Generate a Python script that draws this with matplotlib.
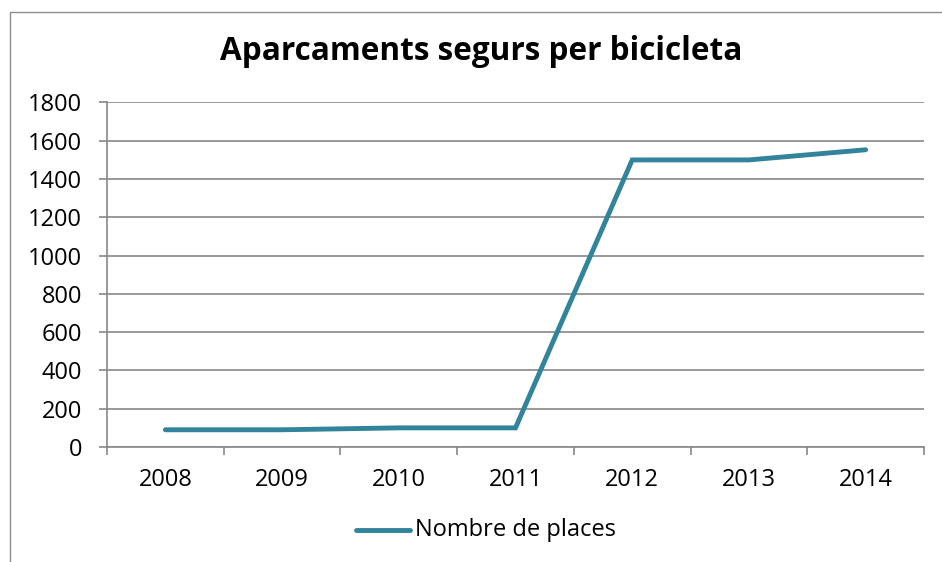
import matplotlib
matplotlib.use("Agg")
import matplotlib.pyplot as plt
from matplotlib.patches import Rectangle
from matplotlib.lines import Line2D

years = ["2008", "2009", "2010", "2011", "2012", "2013", "2014"]
places = [90, 90, 100, 100, 1500, 1500, 1553]
yticks = [0, 200, 400, 600, 800, 1000, 1200, 1400, 1600, 1800]
title = "Aparcaments segurs per bicicleta"
series_name = "Nombre de places"

plt.rcParams['font.family'] = ['Open Sans', 'DejaVu Sans']
W, H = 942, 562
fig = plt.figure(figsize=(W / 100, H / 100), dpi=100)
ax = fig.add_axes([107 / W, (H - 447) / H, (924 - 107) / W, (447 - 102.5) / H])

color = "#31849B"
grid_c = "#878787"
fs = 17
x = list(range(len(years)))
ax.plot(x, places, color=color, lw=3.5, solid_capstyle="round", solid_joinstyle="miter")

ax.set_xlim(-0.5, len(years) - 0.5)
ax.set_ylim(0, 1800)
ax.set_yticks(yticks)
ax.set_yticklabels([str(v) for v in yticks], fontsize=fs)
ax.set_xticks(x)
ax.set_xticklabels(years, fontsize=fs)
ax.tick_params(axis="x", which="major", length=0, pad=15)
ax.set_xticks([i - 0.5 for i in range(len(years) + 1)], minor=True)
ax.tick_params(axis="x", which="minor", length=6, width=1.2, color=grid_c, direction="out")
ax.tick_params(axis="y", length=6, width=1.2, color=grid_c, pad=12)
ax.yaxis.grid(True, color=grid_c, lw=1.2)
ax.set_axisbelow(True)
for s in ["top", "right"]:
    ax.spines[s].set_visible(False)
for s in ["left", "bottom"]:
    ax.spines[s].set_color(grid_c)
    ax.spines[s].set_linewidth(1.2)

fig.text(481 / W, 1 - 52 / H, title, ha="center", va="center", fontsize=22.7, fontweight="bold")

# legend
ly = 1 - 530 / H
fig.add_artist(Line2D([356 / W, 410 / W], [ly, ly], color=color, lw=3.5, solid_capstyle="round"))
fig.text(415 / W, ly, series_name, ha="left", va="center", fontsize=fs)

# outer chart frame
fig.add_artist(Rectangle((9.5 / W, -0.1), 1.2, 1 - 12 / H + 0.1, transform=fig.transFigure,
                         fill=False, edgecolor="#8c8c8c", lw=1.0))

fig.savefig("out.png", dpi=100)
